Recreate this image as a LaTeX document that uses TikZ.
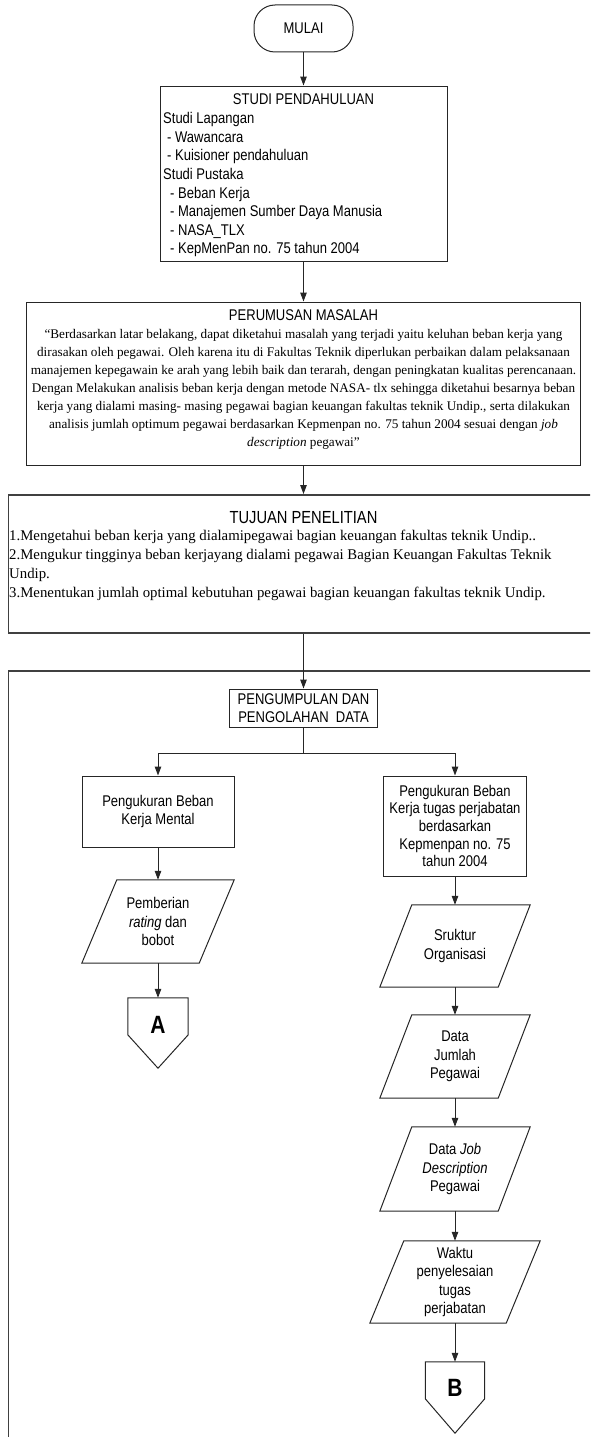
\documentclass[tikz,border=0pt]{standalone}
\usepackage{fontspec}
\setmainfont{Liberation Serif}
\newfontfamily\nsans[FakeStretch=0.84]{Liberation Sans}
\usetikzlibrary{arrows.meta,calc}
\newcommand\paradraw[2]{\draw[shapeline] ([xshift=#2]#1.north west) -- ([xshift=#2]#1.north east) -- ([xshift=-#2]#1.south east) -- ([xshift=-#2]#1.south west) -- cycle;}
\newcommand\offpage[1]{\draw[shapeline] (#1.north west) -- (#1.north east) -- ($(#1.north east)+(0,37)$) -- (#1.south) -- ($(#1.north west)+(0,37)$) -- cycle;}
\begin{document}
\begin{tikzpicture}[x=1pt,y=-1pt,
  shapeline/.style={draw=black!85, line width=1pt},
  box/.style={draw=black!85, line width=1pt, rectangle, inner sep=0pt},
  bigbox/.style={draw=black!75, line width=1.6pt, rectangle, inner sep=0pt},
  inv/.style={rectangle, inner sep=0pt},
  arr/.style={draw=black!85, line width=1pt, -{Triangle[length=9pt,width=6.5pt]}},
  sfs/.style={font=\nsans\fontsize{15.5}{18.6}\selectfont},
  sfr/.style={font=\nsans\fontsize{15.5}{17.6}\selectfont},
  sft/.style={font=\nsans\fontsize{17.5}{20}\selectfont},
  big/.style={font=\nsans\bfseries\fontsize{25}{25}\selectfont},
  rmp/.style={font=\fontsize{13.2}{18.1}\selectfont},
  rmt/.style={font=\fontsize{14.8}{19}\selectfont}]
\useasboundingbox (0,0) rectangle (590,1437);
\clip (0,0) rectangle (590,1437);

% start
\node[box, minimum width=99, minimum height=47, rounded corners=21, sfs] (mulai) at (303.5,28.5) {MULAI};

% studi pendahuluan
\node[box, minimum width=287, minimum height=175] (studi) at (303.5,173.5) {};
\node[inv, sfs] (studit) at (303.5,99) {STUDI PENDAHULUAN};
\node[inv, sfs, align=left, anchor=north west] (studil) at (163,112.3)
  {Studi Lapangan\\
   \hspace*{4pt}- Wawancara\\
   \hspace*{4pt}- Kuisioner pendahuluan\\
   Studi Pustaka\\
   \hspace*{7pt}- Beban Kerja\\
   \hspace*{7pt}- Manajemen Sumber Daya Manusia\\
   \hspace*{7pt}- NASA\_TLX\\
   \hspace*{7pt}- KepMenPan no. 75 tahun 2004};

% perumusan masalah
\node[box, minimum width=554, minimum height=163] (perumusan) at (303.5,383.5) {};
\node[inv, sfs] (perumusant) at (303.5,315) {PERUMUSAN MASALAH};
\node[inv, rmp, align=center, anchor=north] (perumusanl) at (303.5,328.8)
  {“Berdasarkan latar belakang, dapat diketahui masalah yang terjadi yaitu keluhan beban kerja yang\\
   dirasakan oleh pegawai. Oleh karena itu di Fakultas Teknik diperlukan perbaikan dalam pelaksanaan\\
   manajemen kepegawain ke arah yang lebih baik dan terarah, dengan peningkatan kualitas perencanaan.\\
   Dengan Melakukan analisis beban kerja dengan metode NASA- tlx sehingga diketahui besarnya beban\\
   kerja yang dialami masing- masing pegawai bagian keuangan fakultas teknik Undip., serta dilakukan\\
   analisis jumlah optimum pegawai berdasarkan Kepmenpan no. 75 tahun 2004 sesuai dengan \textit{job}\\
   \textit{description} pegawai”};

% tujuan penelitian
\node[bigbox, minimum width=700, minimum height=138, anchor=north west] (tujuan) at (7.5,494) {};
\node[inv, sft] (tujuant) at (303.5,518) {TUJUAN PENELITIAN};
\node[inv, rmt, align=left, anchor=north west] (tujuanl) at (9,529.5)
  {1.Mengetahui beban kerja yang dialamipegawai bagian keuangan fakultas teknik Undip..\\
   2.Mengukur tingginya beban kerjayang dialami pegawai Bagian Keuangan Fakultas Teknik\\
   Undip.\\
   3.Menentukan jumlah optimal kebutuhan pegawai bagian keuangan fakultas teknik Undip.};

% pengumpulan dan pengolahan data frame
\node[bigbox, minimum width=700, minimum height=900, anchor=north west] (pbox) at (7.5,670) {};
\node[box, minimum width=148, minimum height=38, sfs, align=center] (peng) at (303.5,708)
  {PENGUMPULAN DAN\\PENGOLAHAN \ DATA};

% left branch
\node[box, minimum width=152, minimum height=71, sfs, align=center] (kbm) at (158,811.5)
  {Pengukuran Beban\\Kerja Mental};
\node[inv, minimum width=117, minimum height=83, sfs, align=center] (p1) at (158,921.5)
  {Pemberian\\\textit{rating} dan\\bobot};
\node[inv, minimum width=60, minimum height=70] (A) at (158,1033) {};
\node[inv, big] (Alab) at (158,1025) {A};

% right branch
\node[box, minimum width=143, minimum height=100, sfr, align=center] (kjab) at (455,826)
  {Pengukuran Beban\\Kerja tugas perjabatan\\berdasarkan\\Kepmenpan no. 75\\tahun 2004};
\node[inv, minimum width=118, minimum height=82, sfs, align=center] (p2) at (455,946)
  {Sruktur\\Organisasi};
\node[inv, minimum width=118, minimum height=83, sfs, align=center] (p3) at (455,1056.5)
  {Data\\Jumlah\\Pegawai};
\node[inv, minimum width=118, minimum height=84, sfs, align=center] (p4) at (455,1169)
  {Data \textit{Job}\\\textit{Description}\\Pegawai};
\node[inv, minimum width=136, minimum height=82, sfs, align=center] (p5) at (455,1282)
  {Waktu\\penyelesaian\\tugas\\perjabatan};
\node[inv, minimum width=59, minimum height=71] (B) at (455,1397.5) {};
\node[inv, big] (Blab) at (455,1388) {B};

% shapes
\paradraw{p1}{17.5}
\paradraw{p2}{16}
\paradraw{p3}{16}
\paradraw{p4}{16}
\paradraw{p5}{17}
\offpage{A}
\offpage{B}

% connectors
\draw[arr] (mulai) -- (studi);
\draw[arr] (studi) -- (perumusan);
\draw[arr] (perumusan.south) -- (perumusan.south |- tujuan.north);
\draw[arr] (peng |- tujuan.south) -- (peng);
\draw[shapeline] (peng.south) -- ++(0,26) coordinate (br);
\draw[arr] (br) -| (kbm);
\draw[arr] (br) -| (kjab);
\draw[arr] (kbm) -- (p1);
\draw[arr] (p1) -- (A);
\draw[arr] (kjab) -- (p2);
\draw[arr] (p2) -- (p3);
\draw[arr] (p3) -- (p4);
\draw[arr] (p4) -- (p5);
\draw[arr] (p5) -- (B);
\end{tikzpicture}
\end{document}
